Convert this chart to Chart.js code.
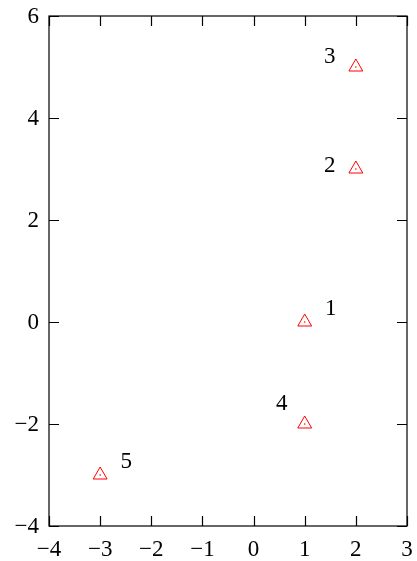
<!DOCTYPE html>
<html>
<head>
<meta charset="utf-8">
<script src="https://cdn.jsdelivr.net/npm/chart.js@4"></script>
<style>
  html, body { margin: 0; padding: 0; background: #fff; }
  #wrap { width: 417px; height: 561px; }
</style>
</head>
<body>
<div id="wrap"><canvas id="plot" width="417" height="561"></canvas></div>
<script>
// 点データ
const xValues = [1, 2, 2, 1, -3];
const yValues = [0, 3, 5, -2, -3];
const pointNames = ['1', '2', '3', '4', '5'];
// ラベルの位置（点から見た方向）
const labelSide = ['ne', 'w', 'nw', 'nw2', 'ne'];

const xTicks = [-4, -3, -2, -1, 0, 1, 2, 3];
const yTicks = [-4, -2, 0, 2, 4, 6];

const FONT = '"Liberation Serif", "DejaVu Serif", serif';
const minus = v => String(v).replace('-', '\u2212');

const points = xValues.map((x, i) => ({ x: x, y: yValues[i] }));

// 枠線・内向きの目盛り・目盛りラベル・点ラベル
const framePlugin = {
    id: 'frame',
    afterDatasetsDraw(chart) {
        const ctx = chart.ctx;
        const a = chart.chartArea;
        const xs = chart.scales.x, ys = chart.scales.y;
        const len = 10;
        ctx.save();
        ctx.strokeStyle = '#000';
        ctx.lineWidth = 1.2;
        ctx.strokeRect(a.left, a.top, a.right - a.left, a.bottom - a.top);
        ctx.beginPath();
        xTicks.forEach(t => {
            const px = Math.round(xs.getPixelForValue(t)) + 0.5;
            ctx.moveTo(px, a.bottom); ctx.lineTo(px, a.bottom - len);
            ctx.moveTo(px, a.top); ctx.lineTo(px, a.top + len);
        });
        yTicks.forEach(t => {
            const py = Math.round(ys.getPixelForValue(t)) + 0.5;
            ctx.moveTo(a.left, py); ctx.lineTo(a.left + len, py);
            ctx.moveTo(a.right, py); ctx.lineTo(a.right - len, py);
        });
        ctx.stroke();

        ctx.fillStyle = '#000';
        ctx.font = '23px ' + FONT;
        ctx.textBaseline = 'middle';
        ctx.textAlign = 'center';
        xTicks.forEach(t => {
            ctx.fillText(minus(t), xs.getPixelForValue(t), a.bottom + 24);
        });
        ctx.textAlign = 'right';
        yTicks.forEach(t => {
            ctx.fillText(minus(t), a.left - 10, ys.getPixelForValue(t) + 1);
        });

        ctx.font = '23px ' + FONT;
        ctx.textAlign = 'center';
        const off = {
            ne: [26, -13], w: [-26, -3], nw: [-26, -10], nw2: [-23, -20]
        };
        points.forEach((p, i) => {
            const o = off[labelSide[i]];
            const px = xs.getPixelForValue(p.x) + o[0];
            const py = ys.getPixelForValue(p.y) + o[1];
            ctx.fillText(pointNames[i], px, py);
        });
        ctx.restore();
    }
};

new Chart(document.getElementById('plot'), {
    type: 'scatter',
    data: {
        datasets: [
            {
                data: points,
                pointStyle: 'triangle',
                pointRadius: 8,
                borderColor: '#ff0000',
                backgroundColor: 'rgba(0,0,0,0)',
                borderWidth: 1,
                pointHoverRadius: 8
            },
            {
                data: points,
                pointStyle: 'circle',
                pointRadius: 0.8,
                borderWidth: 0,
                backgroundColor: '#ff0000'
            }
        ]
    },
    options: {
        responsive: false,
        animation: false,
        events: [],
        layout: { padding: { top: 16, right: 10, left: 0, bottom: 0 } },
        plugins: { legend: { display: false }, tooltip: { enabled: false } },
        scales: {
            x: {
                type: 'linear',
                min: -4, max: 3,
                afterBuildTicks: s => { s.ticks = xTicks.map(v => ({ value: v })); },
                afterFit: s => { s.height = 35; },
                grid: { display: false },
                border: { display: false },
                ticks: { display: false }
            },
            y: {
                type: 'linear',
                min: -4, max: 6,
                afterBuildTicks: s => { s.ticks = yTicks.map(v => ({ value: v })); },
                afterFit: s => { s.width = 49; },
                grid: { display: false },
                border: { display: false },
                ticks: { display: false }
            }
        }
    },
    plugins: [framePlugin]
});
</script>
</body>
</html>
